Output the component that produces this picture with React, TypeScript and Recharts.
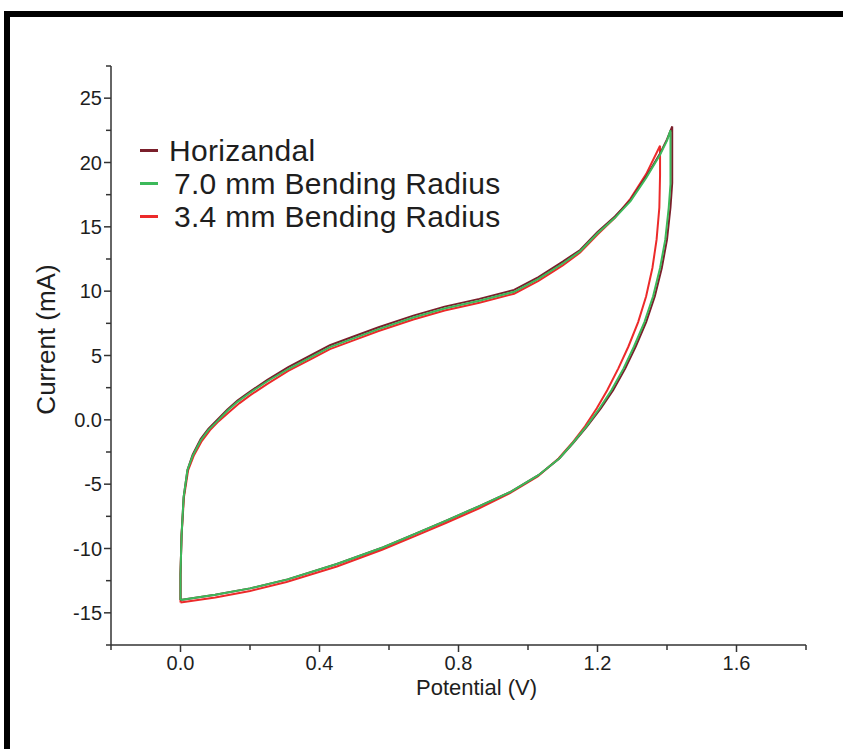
import { LineChart, Line, XAxis, YAxis, Label } from "recharts";

const horizV = [
  0, 0, 0.003, 0.009, 0.02, 0.035, 0.058, 0.08, 0.106, 0.135, 0.164, 0.2, 0.25, 0.31, 0.374,
  0.43, 0.49, 0.57, 0.67, 0.76, 0.86, 0.96, 1.03, 1.1, 1.15, 1.2, 1.25, 1.295, 1.34, 1.38, 1.4,
  1.415, 1.415, 1.41, 1.4, 1.385, 1.365, 1.34, 1.31, 1.28, 1.245, 1.21, 1.17, 1.13, 1.09, 1.03,
  0.95, 0.86, 0.768, 0.68, 0.584, 0.45, 0.308, 0.2, 0.1, 0,
];
const horizI = [
  -14.0, -12.0, -9.0, -6.0, -3.9, -2.7, -1.5, -0.7, 0.0, 0.8, 1.5, 2.2, 3.1, 4.1, 5.0,
  5.8, 6.4, 7.2, 8.1, 8.8, 9.4, 10.1, 11.1, 12.3, 13.2, 14.6, 15.8, 17.1, 18.9, 20.7, 21.8,
  22.8, 18.4, 16.5, 14.0, 11.8, 9.6, 7.6, 5.7, 4.0, 2.3, 0.9, -0.5, -1.8, -3.0, -4.3,
  -5.6, -6.7, -7.8, -8.8, -9.9, -11.2, -12.4, -13.1, -13.6, -14.0,
];

const bend70V = [
  0, 0, 0.003, 0.009, 0.02, 0.035, 0.058, 0.08, 0.106, 0.135, 0.164, 0.2, 0.25, 0.31, 0.374,
  0.43, 0.49, 0.57, 0.67, 0.76, 0.86, 0.96, 1.03, 1.1, 1.15, 1.2, 1.25, 1.295, 1.34, 1.38, 1.4,
  1.41, 1.41, 1.405, 1.395, 1.38, 1.36, 1.335, 1.305, 1.275, 1.24, 1.206, 1.168, 1.129, 1.09, 1.03,
  0.95, 0.86, 0.768, 0.68, 0.584, 0.45, 0.308, 0.2, 0.1, 0,
];
const bend70I = [
  -14.0, -12.0, -9.0, -6.0, -3.9, -2.8, -1.6, -0.8, -0.1, 0.7, 1.4, 2.1, 3.0, 3.95, 4.85,
  5.65, 6.25, 7.05, 7.95, 8.65, 9.25, 9.95, 10.95, 12.15, 13.1, 14.5, 15.7, 17.0, 18.8, 20.6, 21.7,
  22.5, 18.3, 16.5, 14.0, 11.8, 9.6, 7.6, 5.7, 4.0, 2.3, 0.9, -0.5, -1.8, -3.0, -4.3,
  -5.6, -6.7, -7.8, -8.8, -9.9, -11.2, -12.4, -13.1, -13.6, -14.0,
];

const bend34V = [
  0, 0, 0.003, 0.01, 0.022, 0.038, 0.06, 0.085, 0.11, 0.14, 0.17, 0.2, 0.25, 0.31, 0.374,
  0.43, 0.49, 0.57, 0.67, 0.76, 0.86, 0.96, 1.03, 1.1, 1.15, 1.2, 1.25, 1.295, 1.34, 1.38,
  1.38, 1.378, 1.37, 1.358, 1.34, 1.317, 1.289, 1.26, 1.228, 1.198, 1.164, 1.127, 1.088, 1.028,
  0.948, 0.858, 0.765, 0.678, 0.58, 0.45, 0.305, 0.2, 0.1, 0,
];
const bend34I = [
  -14.2, -12.0, -9.0, -6.0, -3.9, -2.8, -1.7, -0.8, -0.1, 0.6, 1.3, 1.9, 2.8, 3.8, 4.7,
  5.5, 6.1, 6.9, 7.8, 8.5, 9.1, 9.8, 10.8, 12.0, 13.0, 14.4, 15.7, 17.2, 19.1, 21.3,
  19.0, 16.5, 14.0, 11.8, 9.6, 7.6, 5.7, 4.0, 2.3, 0.9, -0.5, -1.8, -3.0, -4.4,
  -5.7, -6.9, -8.0, -9.0, -10.1, -11.4, -12.6, -13.3, -13.8, -14.2,
];

const seriesNames = ["Horizandal", "7.0 mm Bending Radius", "3.4 mm Bending Radius"];
const seriesColors = ["#7a1f2b", "#3cb95a", "#ec2a2a"];

const xTicks = [-0.2, 0, 0.2, 0.4, 0.6, 0.8, 1.0, 1.2, 1.4, 1.6, 1.8];
const xMajor = [0, 0.4, 0.8, 1.2, 1.6];
const xMajorLabels = ["0.0", "0.4", "0.8", "1.2", "1.6"];

const yTicks = [-17.5, -15, -12.5, -10, -7.5, -5, -2.5, 0, 2.5, 5, 7.5, 10, 12.5, 15, 17.5, 20, 22.5, 25, 27.5];
const yMajor = [-15, -10, -5, 0, 5, 10, 15, 20, 25];
const yMajorLabels = ["-15", "-10", "-5", "0.0", "5", "10", "15", "20", "25"];

const toRows = (v: number[], c: number[]) => v.map((x, k) => ({ v: x, i: c[k] }));

const FONT = '"Liberation Sans", Arial, sans-serif';
const INK = "#1e1e1e";

function XTick({ x, y, payload }: any) {
  const k = xMajor.findIndex((m) => Math.abs(m - payload.value) < 1e-6);
  return (
    <g>
      <line x1={x} x2={x} y1={y} y2={y + (k >= 0 ? 7 : 5)} stroke="#333" strokeWidth={1.5} />
      {k >= 0 && (
        <text x={x} y={y + 25} textAnchor="middle" fontSize={20} fontFamily={FONT} fill={INK}>
          {xMajorLabels[k]}
        </text>
      )}
    </g>
  );
}

function YTick({ x, y, payload }: any) {
  const k = yMajor.findIndex((m) => Math.abs(m - payload.value) < 1e-6);
  return (
    <g>
      <line x1={x - (k >= 0 ? 7 : 5)} x2={x} y1={y} y2={y} stroke="#333" strokeWidth={1.5} />
      {k >= 0 && (
        <text x={x - 9} y={y + 7} textAnchor="end" fontSize={20} fontFamily={FONT} fill={INK}>
          {yMajorLabels[k]}
        </text>
      )}
    </g>
  );
}

export default function App() {
  const data = [toRows(horizV, horizI), toRows(bend70V, bend70I), toRows(bend34V, bend34I)];
  const order = [2, 0, 1];

  return (
    <div style={{ position: "absolute", left: 0, top: 0, width: 843, height: 749, background: "#fff" }}>
      <div
        style={{
          position: "absolute",
          left: 4,
          top: 11,
          width: 843,
          height: 749,
          borderTop: "6px solid #000",
          borderLeft: "6px solid #000",
        }}
      />
      <LineChart width={843} height={749} margin={{ top: 66, right: 37, bottom: 64, left: 51 }}>
        <XAxis
          dataKey="v"
          type="number"
          domain={[-0.2, 1.8]}
          ticks={xTicks}
          tick={<XTick />}
          tickLine={false}
          tickSize={0}
          tickMargin={0}
          height={40}
          interval={0}
          axisLine={{ stroke: "#333", strokeWidth: 1.5 }}
          allowDataOverflow
        >
          <Label
            content={({ viewBox }: any) => (
              <text
                x={viewBox.x + viewBox.width / 2 + 18}
                y={viewBox.y + 50}
                textAnchor="middle"
                fontSize={22}
                fontFamily={FONT}
                fill={INK}
              >
                Potential (V)
              </text>
            )}
          />
        </XAxis>
        <YAxis
          type="number"
          domain={[-17.5, 27.5]}
          ticks={yTicks}
          tick={<YTick />}
          tickLine={false}
          tickSize={0}
          tickMargin={0}
          width={60}
          interval={0}
          axisLine={{ stroke: "#333", strokeWidth: 1.5 }}
          allowDataOverflow
        >
          <Label
            content={({ viewBox }: any) => {
              const cx = viewBox.x + 4;
              const cy = viewBox.y + viewBox.height / 2 - 16;
              return (
                <text
                  x={cx}
                  y={cy}
                  transform={`rotate(-90 ${cx} ${cy})`}
                  textAnchor="middle"
                  fontSize={26}
                  fontFamily={FONT}
                  fill={INK}
                >
                  Current (mA)
                </text>
              );
            }}
          />
        </YAxis>
        {order.map((s) => (
          <Line
            key={s}
            data={data[s]}
            dataKey="i"
            name={seriesNames[s]}
            type="linear"
            stroke={seriesColors[s]}
            strokeWidth={2}
            dot={false}
            isAnimationActive={false}
          />
        ))}
      </LineChart>
      <div style={{ position: "absolute", left: 140, top: 134, fontFamily: FONT, color: INK }}>
        {seriesNames.map((n, s) => (
          <div key={n} style={{ display: "flex", alignItems: "center", height: 33 }}>
            <span style={{ width: 18, height: 3, background: seriesColors[s], marginRight: s === 0 ? 11 : 16 }} />
            <span style={{ fontSize: 30, lineHeight: "33px", letterSpacing: 0.3 }}>{n}</span>
          </div>
        ))}
      </div>
    </div>
  );
}
